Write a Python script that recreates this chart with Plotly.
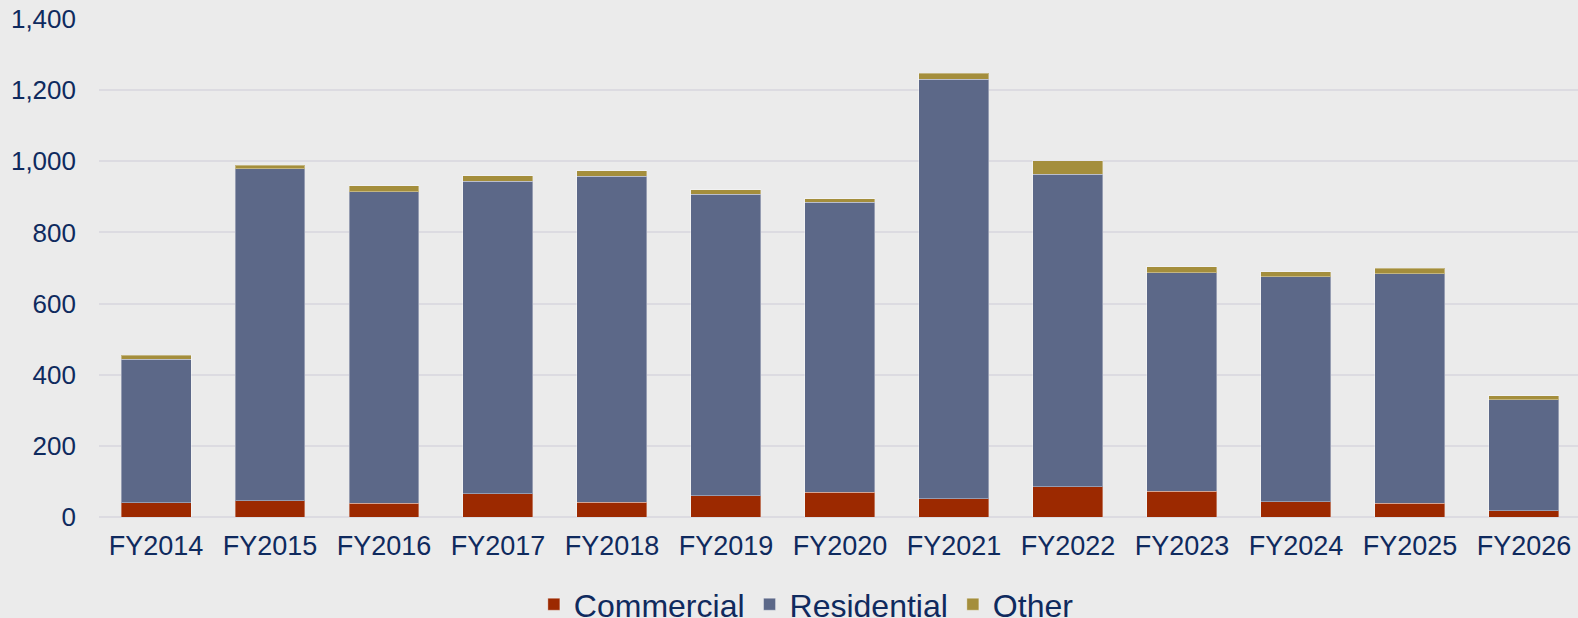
import plotly.graph_objects as go

categories = ["FY2014", "FY2015", "FY2016", "FY2017", "FY2018", "FY2019", "FY2020",
              "FY2021", "FY2022", "FY2023", "FY2024", "FY2025", "FY2026"]
commercial = [40, 45, 38, 65, 41, 60, 70, 52, 85, 72, 43, 38, 18]
residential = [404, 934, 877, 879, 917, 847, 815, 1179, 878, 615, 632, 646, 312]
other = [11, 10, 16, 16, 16, 13, 9, 17, 38, 16, 14, 15, 11]
y_ticks = [0, 200, 400, 600, 800, 1000, 1200, 1400]

TEXT = "#0F2A5E"
BG = "#EBEBEB"
GRID = "#DCDBE1"
FONT = "Liberation Sans, Arial, sans-serif"

fig = go.Figure()
series = [("Commercial", commercial, "#9C2900"),
          ("Residential", residential, "#5C6888"),
          ("Other", other, "#A48E3C")]
for name, vals, col in series:
    fig.add_trace(go.Bar(
        name=name, x=categories, y=vals,
        marker=dict(color=col, line=dict(color="rgba(255,255,255,0.35)", width=1)),
    ))

fig.update_layout(
    barmode="stack",
    bargap=0.386,
    width=1578, height=618,
    margin=dict(l=99, r=0, t=19, b=101, autoexpand=False),
    paper_bgcolor=BG, plot_bgcolor=BG,
    font=dict(family=FONT, color=TEXT, size=26),
    showlegend=True,
    legend=dict(
        orientation="h", xref="container", yref="container",
        x=0.511, xanchor="center", y=0.022, yanchor="middle",
        font=dict(size=32, color=TEXT), bgcolor="rgba(0,0,0,0)",
        traceorder="normal",
    ),
    xaxis=dict(
        range=[-0.5, 12.474], showgrid=False, zeroline=False, showline=False,
        tickfont=dict(size=27, color=TEXT), ticks="", ticklabelstandoff=10,
    ),
    yaxis=dict(
        range=[0, 1400], tickvals=y_ticks, tickformat=",",
        showgrid=True, gridcolor=GRID, gridwidth=2,
        zeroline=True, zerolinecolor=GRID, zerolinewidth=2,
        showline=False, ticks="", ticklabelstandoff=22,
        tickfont=dict(size=26, color=TEXT),
    ),
)

fig.write_html(
    "out.html",
    config={"displayModeBar": False},
    post_script="document.body.style.margin='0';document.body.style.overflow='hidden';",
)
